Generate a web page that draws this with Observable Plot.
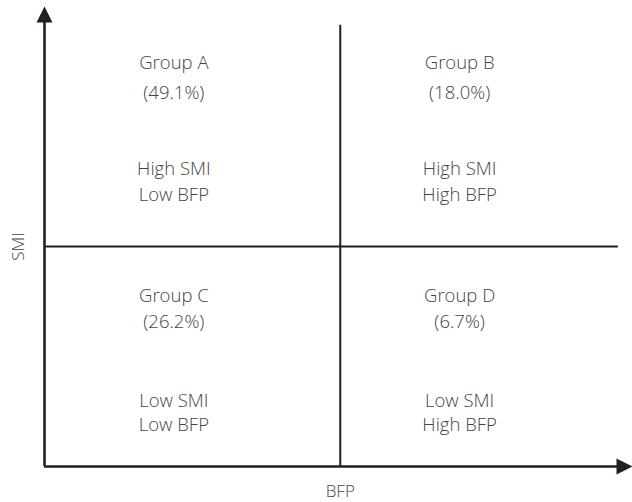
<!DOCTYPE html>
<html>
<head>
<meta charset="utf-8">
<script src="https://cdn.jsdelivr.net/npm/d3@7"></script>
<script src="https://cdn.jsdelivr.net/npm/@observablehq/plot@0.6"></script>
<style>
  html, body { margin: 0; padding: 0; background: #fff; }
  #chart svg { display: block; }
</style>
</head>
<body>
<div id="chart"></div>
<script>
// Quadrant data
const groups = ["Group A", "Group B", "Group C", "Group D"];
const shares = ["(49.1%)", "(18.0%)", "(26.2%)", "(6.7%)"];
const smiLevels = ["High SMI", "High SMI", "Low SMI", "Low SMI"];
const bfpLevels = ["Low BFP", "High BFP", "Low BFP", "High BFP"];
const bfpSide = ["low", "high", "low", "high"];
const smiSide = ["high", "high", "low", "low"];

// Axis semantics (chart units 0..100)
const bfpCut = 50.3;
const smiCut = 47.8;
const xCenters = {low: 22.0, high: 70.6};
const groupY = {high: 87.8, low: 37.0};
const pctY = {high: 81.2, low: 31.5};
const smiY = {high: 64.6, low: 14.3};
const bfpY = {high: 58.9, low: 8.9};

const rows = groups.map((g, i) => ({
  group: g, share: shares[i], smi: smiLevels[i], bfp: bfpLevels[i],
  x: xCenters[bfpSide[i]],
  yg: groupY[smiSide[i]], yp: pctY[smiSide[i]],
  ys: smiY[smiSide[i]], yb: bfpY[smiSide[i]]
}));

const ink = "#231f20";
const textInk = "#444444";
const font = "'Open Sans', 'Noto Sans', sans-serif";

const arrowHead = {
  draw(ctx) {
    ctx.moveTo(0, 0);
    ctx.lineTo(-8, 16);
    ctx.lineTo(8, 16);
    ctx.closePath();
  }
};

const textOpts = (y, key) => ({x: "x", y, text: key, fontSize: 18.5, fill: textInk, fontWeight: 300});

const plot = Plot.plot({
  width: 632,
  height: 502,
  margin: 0,
  style: {fontFamily: font, background: "#fff"},
  x: {domain: [0, 100], range: [44, 632], axis: null},
  y: {domain: [0, 100], range: [466, 6], axis: null},
  marks: [
    // divider lines
    Plot.ruleX([bfpCut], {y1: 0, y2: 95.9, stroke: ink, strokeWidth: 2}),
    Plot.ruleY([smiCut], {x1: 0, x2: 97.6, stroke: ink, strokeWidth: 2}),
    // axes
    Plot.ruleX([0], {y1: 0, y2: 97, stroke: ink, strokeWidth: 2.6}),
    Plot.ruleY([0], {x1: 0, x2: 98, stroke: ink, strokeWidth: 2.6}),
    Plot.dot([{x: 0, y: 100}], {x: "x", y: "y", symbol: arrowHead, fill: ink, stroke: null, r: 5}),
    Plot.dot([{x: 100, y: 0}], {x: "x", y: "y", symbol: arrowHead, fill: ink, stroke: null, r: 5, rotate: 90}),
    // quadrant labels
    Plot.text(rows, textOpts("yg", "group")),
    Plot.text(rows, textOpts("yp", "share")),
    Plot.text(rows, textOpts("ys", "smi")),
    Plot.text(rows, textOpts("yb", "bfp")),
    // axis titles
    Plot.text(["BFP"], {x: bfpCut, y: 0, dy: 25, text: d => d, fontSize: 17, fill: textInk, fontWeight: 300}),
    Plot.text(["SMI"], {x: 0, y: smiCut, dx: -26, rotate: -90, text: d => d, fontSize: 17, fill: textInk, fontWeight: 300})
  ]
});
document.getElementById("chart").appendChild(plot);
</script>
</body>
</html>
